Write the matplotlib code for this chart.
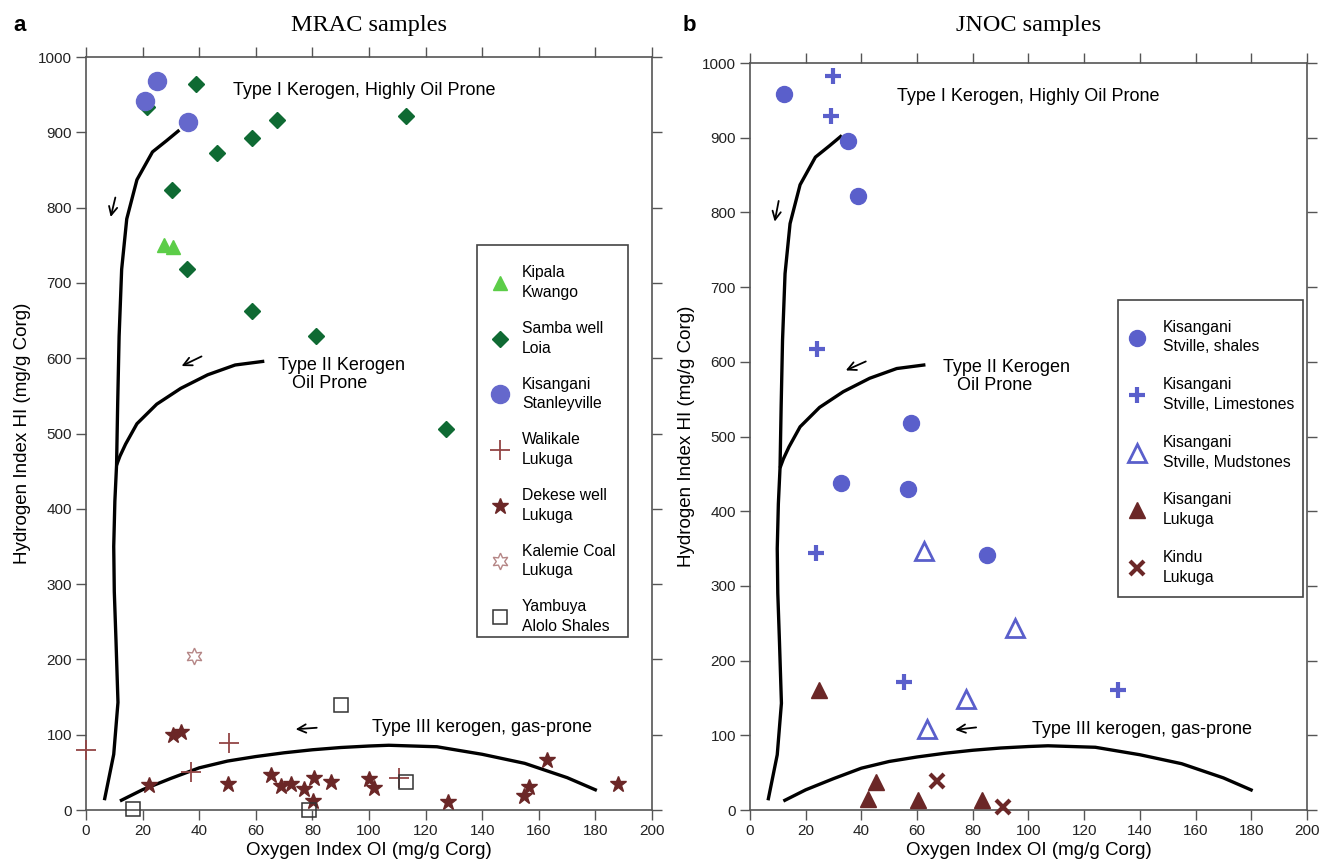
import numpy as np
import matplotlib
matplotlib.use("Agg")
import matplotlib.pyplot as plt
from matplotlib.patches import Rectangle

plt.rcParams['font.family'] = ['Liberation Sans', 'DejaVu Sans']

# --- kerogen type boundary curves (OI, HI) ---
type1_oi = [33, 28.5, 23.5, 18, 14.4, 12.6, 11.7, 11.2, 10.8, 10.2, 9.8, 10.0, 10.6, 11.3, 9.8, 6.5]
type1_hi = [903, 889, 874, 837, 785, 718, 629, 540, 458, 410, 350, 290, 225, 143, 74, 13]
type2_oi = [10.8, 12, 14, 18, 25, 33.5, 43, 52.7, 63]
type2_hi = [458, 470, 486, 513, 539, 560, 578, 591, 596]
type3_oi = [12, 20, 30, 40, 50, 60, 70, 80, 90, 100, 107, 124, 140, 155, 170, 180.5]
type3_hi = [12, 27, 42, 56, 65, 71, 76, 80, 83, 85, 86, 84, 74, 62, 43, 26]

# --- MRAC samples (panel a) ---
kipala_oi = [27.5, 30.8]
kipala_hi = [751, 748]
samba_oi = [21.7, 38.9, 46.2, 58.7, 67.6, 113, 30.4, 35.6, 58.7, 81.3, 127.2]
samba_hi = [933, 964, 873, 892, 916, 922, 823, 718, 663, 629, 506]
stanley_oi = [20.9, 25.0, 35.9]
stanley_hi = [941, 968, 914]
walikale_oi = [0, 37, 50.7, 110.7]
walikale_hi = [80, 51, 89, 42]
dekese_oi = [22.4, 30.6, 33.7, 50.3, 65.2, 69, 72.3, 77, 80.6, 80.2, 86.7, 99.9,
             101.9, 128, 154.6, 156.5, 163, 188]
dekese_hi = [33, 99, 103, 35, 47, 32, 35, 28, 42, 12, 37.5, 40.6, 29, 11, 19, 31, 66, 35]
kalemie_oi = [38]
kalemie_hi = [204]
yambuya_oi = [16.6, 78.8, 90, 113.2]
yambuya_hi = [1.3, 0, 139, 36.6]

# --- JNOC samples (panel b) ---
shales_oi = [12.4, 35.3, 38.9, 57.7, 32.6, 56.9, 85.2]
shales_hi = [959, 895, 822, 518, 438, 430, 342]
limest_oi = [29.9, 29.0, 23.9, 23.7, 55.4, 132.2]
limest_hi = [983, 929, 617, 344, 171, 160]
mudst_oi = [62.5, 95.2, 77.4, 63.4]
mudst_hi = [347, 243, 148, 108]
lukuga_oi = [24.7, 45.2, 42.3, 60.2, 83.3]
lukuga_hi = [160, 38, 15, 13, 13]
kindu_oi = [67.3, 91]
kindu_hi = [39, 4.4]

BLUE = '#5a5fcb'
BROWN = '#6b2727'
SPINE = '#555555'
LEG_FS = 11.3


def style_axes(ax):
    ax.set_xlim(0, 200)
    ax.set_ylim(0, 1000)
    ax.set_xticks(np.arange(0, 201, 20))
    ax.set_yticks(np.arange(0, 1001, 100))
    ax.tick_params(direction='out', length=7, width=1, color=SPINE,
                   top=True, right=True, labeltop=False, labelright=False,
                   labelsize=11, labelcolor='#222222', pad=3)
    for s in ax.spines.values():
        s.set_color(SPINE)
        s.set_linewidth(1.2)
    ax.set_xlabel("Oxygen Index OI (mg/g Corg)", fontsize=13.5, labelpad=3)
    ax.set_ylabel("Hydrogen Index HI (mg/g Corg)", fontsize=13.5, labelpad=5)


def draw_curves(ax, t1, t2, t3, arrows):
    for xs, ys in [(type1_oi, type1_hi), (type2_oi, type2_hi), (type3_oi, type3_hi)]:
        ax.plot(xs, ys, color='black', lw=2.4, solid_capstyle='butt', zorder=2)
    ax.text(t1[0], t1[1], "Type I Kerogen, Highly Oil Prone", fontsize=13, va='center')
    ax.text(t2[0], t2[1], "Type II Kerogen", fontsize=13, va='center')
    ax.text(t2[0] + 5, t2[1] - 25, "Oil Prone", fontsize=13, va='center')
    ax.text(t3[0], t3[1], "Type III kerogen, gas-prone", fontsize=13, va='center')
    for (x0, y0, x1, y1) in arrows:
        ax.annotate("", xy=(x1, y1), xytext=(x0, y0),
                    arrowprops=dict(arrowstyle='->,head_length=0.6,head_width=0.3',
                                    color='black', lw=1.3))


def boxed_legend(ax, box, anchor_y, spacing, hl, htp):
    x0, y0, x1, y1 = box
    ax.add_patch(Rectangle((x0, y0), x1 - x0, y1 - y0, transform=ax.transAxes,
                           fill=True, facecolor='white', edgecolor='#444444',
                           lw=1.2, zorder=4, clip_on=False))
    leg = ax.legend(loc='upper left', bbox_to_anchor=(x0, anchor_y), borderaxespad=0,
                    fontsize=LEG_FS, numpoints=1, labelspacing=spacing, borderpad=0.5,
                    handlelength=hl, handletextpad=htp, frameon=False)
    leg.set_zorder(5)
    for t in leg.get_texts():
        t.set_linespacing(1.4)
    return leg


fig = plt.figure(figsize=(13.25, 8.68), dpi=100)
ax1 = fig.add_axes([0.0649, 0.0668, 0.4272, 0.8675])
ax2 = fig.add_axes([0.566, 0.0668, 0.4204, 0.8606])

# panel a
style_axes(ax1)
draw_curves(ax1, (52, 956), (67.8, 591), (101, 109),
            [(10.6, 817, 8.5, 784), (41.7, 604, 32.9, 588), (82.5, 109.5, 73.1, 107)])
kw = dict(linestyle='none', clip_on=False, zorder=3)
ax1.plot(kipala_oi, kipala_hi, marker='^', ms=10, color='#5ccd48', label='Kipala\nKwango', **kw)
ax1.plot(samba_oi, samba_hi, marker='D', ms=8, color='#0f6a33', label='Samba well\nLoia', **kw)
ax1.plot(stanley_oi, stanley_hi, marker='o', ms=13, color='#6568cc', label='Kisangani\nStanleyville', **kw)
ax1.plot(walikale_oi, walikale_hi, marker='+', ms=15, mew=1.3, color='#934545', label='Walikale\nLukuga', **kw)
ax1.plot(dekese_oi, dekese_hi, marker='*', ms=12, color=BROWN, label='Dekese well\nLukuga', **kw)
ax1.plot(kalemie_oi, kalemie_hi, marker=(6, 1, 0), ms=12, mew=1.0, mfc='none', color='#b58686',
         label='Kalemie Coal\nLukuga', **kw)
ax1.plot(yambuya_oi, yambuya_hi, marker='s', ms=10, mew=1.1, mfc='none', color='#333333',
         label='Yambuya\nAlolo Shales', **kw)
boxed_legend(ax1, (0.691, 0.230, 0.958, 0.750), 0.734, 1.33, 1.9, 0.45)
fig.text(0.0649 + 0.4272 / 2, 0.971, "MRAC samples", fontsize=17.5,
         family=['Liberation Serif', 'DejaVu Serif'], ha='center', va='center')
fig.text(0.015, 0.971, "a", fontsize=16, fontweight='bold', ha='center', va='center')

# panel b
style_axes(ax2)
draw_curves(ax2, (52.7, 955), (69.3, 593), (101.3, 108),
            [(10.5, 819, 8.7, 784), (42.5, 602, 33.5, 587), (82.2, 111, 72.7, 107)])
ax2.plot(shales_oi, shales_hi, marker='o', ms=11.5, color=BLUE, label='Kisangani\nStville, shales', **kw)
ax2.plot(limest_oi, limest_hi, marker='+', ms=12, mew=3, color=BLUE,
         label='Kisangani\nStville, Limestones', **kw)
ax2.plot(mudst_oi, mudst_hi, marker='^', ms=13, mew=2, mfc='none', color=BLUE,
         label='Kisangani\nStville, Mudstones', **kw)
ax2.plot(lukuga_oi, lukuga_hi, marker='^', ms=12, color=BROWN, label='Kisangani\nLukuga', **kw)
ax2.plot(kindu_oi, kindu_hi, marker='x', ms=10, mew=3, color=BROWN, label='Kindu\nLukuga', **kw)
boxed_legend(ax2, (0.661, 0.285, 0.993, 0.683), 0.667, 1.45, 1.42, 0.95)
fig.text(0.566 + 0.4204 / 2, 0.971, "JNOC samples", fontsize=17.5,
         family=['Liberation Serif', 'DejaVu Serif'], ha='center', va='center')
fig.text(0.52, 0.971, "b", fontsize=16, fontweight='bold', ha='center', va='center')

fig.savefig("out.png", dpi=100)
